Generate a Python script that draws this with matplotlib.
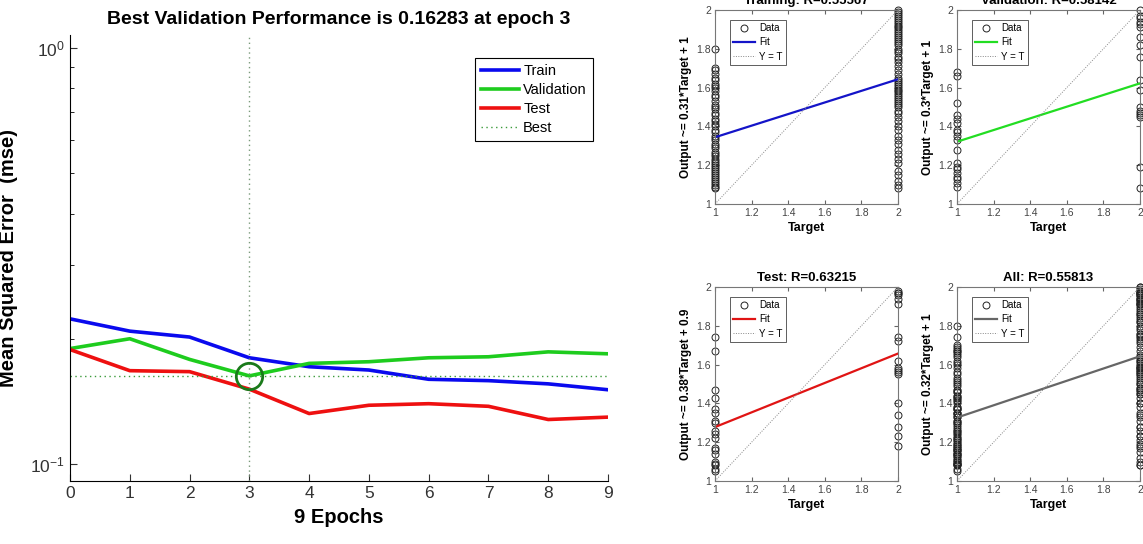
import numpy as np
import matplotlib
matplotlib.use("Agg")
import matplotlib.pyplot as plt
from matplotlib.ticker import LogLocator, NullFormatter

plt.rcParams["font.family"] = ["Liberation Sans", "DejaVu Sans"]
plt.rcParams["mathtext.fontset"] = "custom"
plt.rcParams["mathtext.rm"] = "Liberation Sans"
plt.rcParams["mathtext.it"] = "Liberation Sans:italic"

# performance curve (mse per epoch)
epochs = [0, 1, 2, 3, 4, 5, 6, 7, 8, 9]
train_mse = [0.2233, 0.2086, 0.2019, 0.1800, 0.1713, 0.1682, 0.1598, 0.1586, 0.1558, 0.1508]
val_mse = [0.1894, 0.2000, 0.1784, 0.16283, 0.1745, 0.1761, 0.1800, 0.1810, 0.1860, 0.1840]
test_mse = [0.1884, 0.1676, 0.1667, 0.1513, 0.1322, 0.1384, 0.1396, 0.1376, 0.1279, 0.1296]
best_epoch = 3
best_val = 0.16283

# regression panels: outputs at target 1 and target 2
train_t1 = [1.80, 1.70, 1.69, 1.67, 1.65, 1.64, 1.62, 1.61, 1.60, 1.58, 1.56, 1.55, 1.53,
            1.51, 1.50, 1.49, 1.47, 1.46, 1.44, 1.43, 1.41, 1.40, 1.38, 1.37, 1.35, 1.34,
            1.33, 1.31, 1.30, 1.29, 1.27, 1.26, 1.25, 1.23, 1.22, 1.21, 1.20, 1.19, 1.18,
            1.17, 1.16, 1.15, 1.14, 1.13, 1.12, 1.11, 1.10, 1.09, 1.08]
train_t2 = [2.00, 1.99, 1.98, 1.97, 1.96, 1.95, 1.94, 1.93, 1.92, 1.91, 1.90, 1.89, 1.88,
            1.87, 1.86, 1.85, 1.84, 1.83, 1.82, 1.80, 1.79, 1.78, 1.76, 1.75, 1.73, 1.71,
            1.69, 1.67, 1.65, 1.64, 1.63, 1.62, 1.61, 1.60, 1.59, 1.58, 1.57, 1.56, 1.55,
            1.54, 1.53, 1.52, 1.51, 1.50, 1.48, 1.47, 1.45, 1.43, 1.40, 1.38, 1.35, 1.33,
            1.31, 1.28, 1.26, 1.23, 1.21, 1.17, 1.15, 1.12, 1.10, 1.08]
val_t1 = [1.68, 1.66, 1.52, 1.46, 1.44, 1.42, 1.38, 1.37, 1.35, 1.33, 1.28, 1.21, 1.19,
          1.18, 1.16, 1.14, 1.13, 1.11, 1.09]
val_t2 = [2.00, 1.97, 1.96, 1.94, 1.93, 1.91, 1.86, 1.82, 1.76, 1.64, 1.59, 1.50, 1.48,
          1.47, 1.46, 1.45, 1.19, 1.08]
test_t1 = [1.74, 1.67, 1.47, 1.43, 1.37, 1.35, 1.31, 1.30, 1.26, 1.24, 1.22, 1.17, 1.16,
           1.14, 1.10, 1.09, 1.08, 1.06, 1.05]
test_t2 = [1.98, 1.97, 1.97, 1.96, 1.94, 1.91, 1.74, 1.72, 1.62, 1.58, 1.57, 1.56, 1.55,
           1.40, 1.34, 1.28, 1.23, 1.18]
all_t1 = train_t1 + val_t1 + test_t1
all_t2 = train_t2 + val_t2 + test_t2

panel_titles = ["Training: R=0.55567", "Validation: R=0.58142", "Test: R=0.63215", "All: R=0.55813"]
panel_ylabels = ["Output ~= 0.31*Target + 1", "Output ~= 0.3*Target + 1",
                 "Output ~= 0.38*Target + 0.9", "Output ~= 0.32*Target + 1"]
fit_at_1 = [1.344, 1.321, 1.278, 1.327]
fit_at_2 = [1.643, 1.622, 1.657, 1.643]
fit_colors = ["#1414c8", "#22dd22", "#e01414", "#666666"]
reg_ticks = [1, 1.2, 1.4, 1.6, 1.8, 2]
reg_ticklabels = ["1", "1.2", "1.4", "1.6", "1.8", "2"]

W, H = 1143, 544
fig = plt.figure(figsize=(W / 100, H / 100), dpi=100)


def px_axes(left, top, right, bottom):
    return fig.add_axes([left / W, 1 - bottom / H, (right - left) / W, (bottom - top) / H])


# ---- performance plot ----
ax = px_axes(70, 35, 608, 481)
ax.semilogy(epochs, train_mse, color="#0a0aee", lw=2.6, label="Train")
ax.semilogy(epochs, val_mse, color="#1ecc1e", lw=2.6, label="Validation")
ax.semilogy(epochs, test_mse, color="#ee1010", lw=2.6, label="Test")
ax.axhline(best_val, color="#3a9a3a", lw=1, ls=(0, (1, 2.5)), label="Best")
ax.axvline(best_epoch, color="#7a9a7a", lw=1, ls=(0, (1, 2.5)))
ax.plot([best_epoch], [best_val], "o", mfc="none", mec="#1a7a1a", mew=2, ms=19)
ax.set_xlim(0, 9)
ax.set_ylim(0.0910, 1.0746)
ax.set_xticks(epochs)
ax.yaxis.set_major_locator(LogLocator(base=10))
ax.yaxis.set_minor_locator(LogLocator(base=10, subs=np.arange(2, 10)))
ax.yaxis.set_minor_formatter(NullFormatter())
ax.tick_params(direction="in", labelsize=12.5, length=5, colors="#333333", labelcolor="#333333")
ax.tick_params(which="minor", direction="in", length=3)
for s in ["top", "right"]:
    ax.spines[s].set_visible(False)
ax.set_title("Best Validation Performance is 0.16283 at epoch 3", fontsize=14,
             fontweight="bold", pad=8)
ax.set_xlabel("9 Epochs", fontsize=14.5, fontweight="bold", labelpad=5)
ax.set_ylabel("Mean Squared Error  (mse)", fontsize=14.5, fontweight="bold")
ax.yaxis.set_label_coords((18 - 70) / 538, 0.5)
leg = ax.legend(loc="upper left", bbox_to_anchor=(475 / W, 1 - 58 / H),
                bbox_transform=fig.transFigure, fontsize=10.5, fancybox=False,
                edgecolor="black", framealpha=1, handlelength=2.6, borderpad=0.4,
                labelspacing=0.35, handletextpad=0.3, borderaxespad=0)
leg.get_frame().set_linewidth(0.8)

# ---- regression plots ----
boxes = [(715, 10, 898, 204), (957, 10, 1140, 204), (715, 287, 898, 481), (957, 287, 1140, 481)]
t1_data = [train_t1, val_t1, test_t1, all_t1]
t2_data = [train_t2, val_t2, test_t2, all_t2]
for i in range(4):
    r = px_axes(*boxes[i])
    outs = t1_data[i] + t2_data[i]
    tgts = [1] * len(t1_data[i]) + [2] * len(t2_data[i])
    r.plot(tgts, outs, "o", mfc="none", mec="#222222", mew=0.7, ms=5, label="Data",
           clip_on=False)
    r.plot([1, 2], [fit_at_1[i], fit_at_2[i]], color=fit_colors[i], lw=1.6, label="Fit")
    r.plot([1, 2], [1, 2], color="#888888", lw=0.7, ls=(0, (1, 1.5)), label="Y = T")
    r.set_xlim(1, 2)
    r.set_ylim(1, 2)
    r.set_xticks(reg_ticks)
    r.set_xticklabels(reg_ticklabels)
    r.set_yticks(reg_ticks)
    r.set_yticklabels(reg_ticklabels)
    r.tick_params(direction="in", labelsize=7.5, length=3, top=True, right=True,
                  colors="#666666", labelcolor="#444444", pad=3)
    for s in r.spines.values():
        s.set_color("#777777")
        s.set_linewidth(0.8)
    r.set_title(panel_titles[i], fontsize=9.5, fontweight="bold", pad=4)
    r.set_xlabel("Target", fontsize=9, fontweight="bold", labelpad=3)
    r.set_ylabel(panel_ylabels[i], fontsize=8.5, fontweight="bold", labelpad=3)
    lg = r.legend(loc="upper left", bbox_to_anchor=(0.08, 0.95), fontsize=7,
                  fancybox=False, edgecolor="#444444", framealpha=1, handlelength=2.3,
                  borderpad=0.35, labelspacing=0.45, handletextpad=0.4, borderaxespad=0)
    lg.get_frame().set_linewidth(0.6)

fig.savefig("out.png", dpi=100)
